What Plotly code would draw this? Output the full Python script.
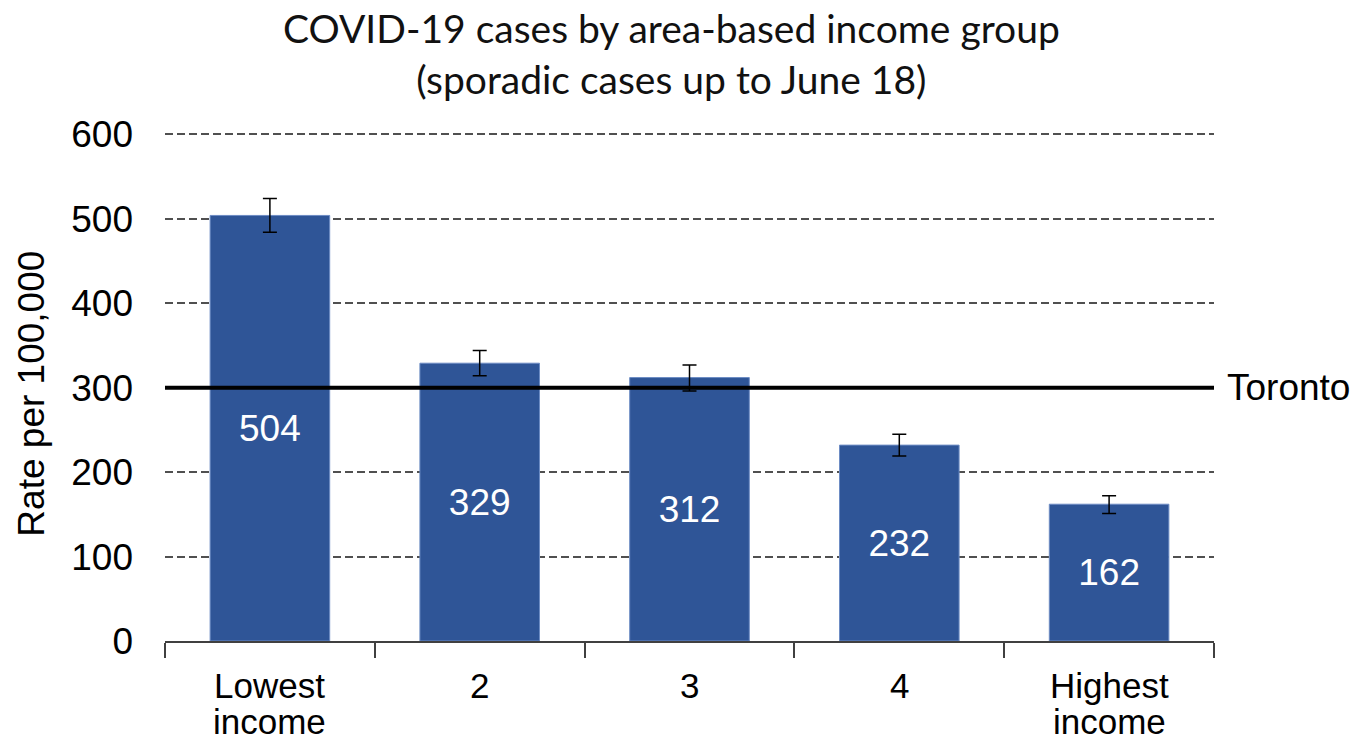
import plotly.graph_objects as go

categories = ["Lowest<br>income", "2", "3", "4", "Highest<br>income"]
rates = [504, 329, 312, 232, 162]
err_upper = [20, 15, 15, 13, 10]
err_lower = [20, 15, 16, 13, 11]
toronto_rate = 300
y_ticks = [0, 100, 200, 300, 400, 500, 600]
title_text = "COVID-19 cases by area-based income group<br>(sporadic cases up to June 18)"
y_title = "Rate per 100,000"

bar_color = "#2F5597"
font_main = "Liberation Sans, Arial, sans-serif"

fig = go.Figure()
fig.add_trace(go.Bar(
    x=categories, y=rates,
    marker=dict(color=bar_color, line=dict(color="#6d8cc4", width=1)),
    width=0.57,
    text=[str(v) for v in rates],
    textposition="inside", insidetextanchor="middle",
    textfont=dict(color="white", size=37, family=font_main),
    error_y=dict(type="data", symmetric=False, array=err_upper, arrayminus=err_lower,
                 color="black", thickness=1.5, width=7),
    hoverinfo="skip",
))

fig.add_shape(type="line", xref="paper", yref="y", x0=0, x1=1,
              y0=toronto_rate, y1=toronto_rate, line=dict(color="black", width=4))
fig.add_annotation(xref="paper", yref="y", x=1, y=toronto_rate, text="Toronto",
                   showarrow=False, xanchor="left", xshift=11,
                   font=dict(size=37, color="black", family=font_main))
fig.add_annotation(xref="paper", yref="paper", x=0.483, y=1.152, text=title_text,
                   showarrow=False, xanchor="center", yanchor="middle",
                   font=dict(size=39, color="#111111", family="Lato, Open Sans, sans-serif"))
fig.add_annotation(xref="paper", yref="paper", x=-0.1268, y=0.485, text=y_title,
                   textangle=-90, showarrow=False, xanchor="center", yanchor="middle",
                   font=dict(size=37, color="black", family=font_main))

# category labels (two tight lines each), placed at each category's axis position
for idx, cat in enumerate(categories):
    for i, line in enumerate(cat.split("<br>")):
        fig.add_annotation(xref="x", yref="paper", x=idx, y=0, text=line,
                           showarrow=False, xanchor="center", yanchor="middle",
                           yshift=-44 - 36 * i,
                           font=dict(size=35, color="black", family=font_main))

fig.update_layout(
    width=1356, height=743,
    paper_bgcolor="white", plot_bgcolor="white",
    margin=dict(l=165, r=142, t=131, b=102, autoexpand=False),
    showlegend=False,
    bargap=0.43,
)
fig.update_xaxes(
    type="category", tickson="boundaries", ticks="outside", ticklen=15, tickcolor="#404040",
    tickwidth=1.5, showline=True, linecolor="#404040", linewidth=1.5, showgrid=False,
    showticklabels=False, automargin=False,
)
fig.update_yaxes(
    range=[0, 604], tickvals=y_ticks, showline=False, zeroline=False,
    showgrid=True, gridcolor="#505050", gridwidth=2, griddash="8px,4px",
    ticks="", ticklabelstandoff=31, automargin=False,
    tickfont=dict(size=37, color="black", family=font_main),
)

fig.write_html("out.html", post_script="document.body.style.margin='0';",
               config={"displayModeBar": False})
